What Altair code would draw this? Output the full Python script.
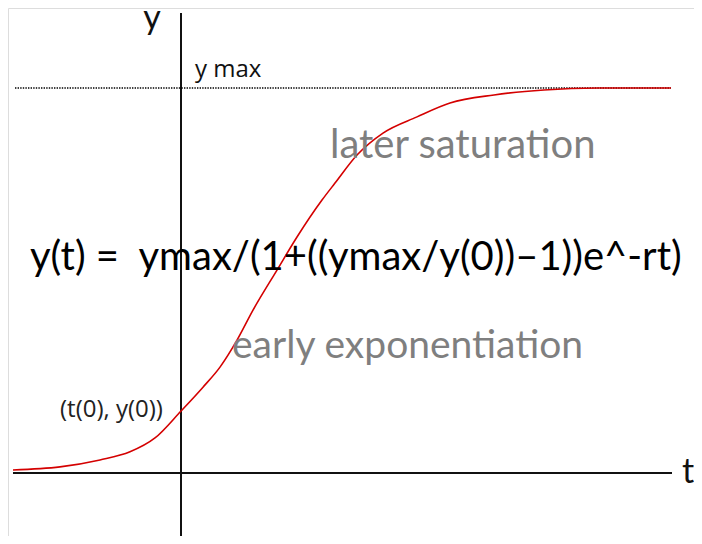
import altair as alt
import pandas as pd

# logistic curve (t in arbitrary units, y as fraction of ymax)
curve_t = [-3.36, -2.42, -1.62, -1.02, -0.52, 0.0, 0.44, 0.78, 1.12, 1.44, 1.92, 2.32, 2.82, 3.08, 3.52, 4.04, 4.72, 5.38, 6.26, 7.26, 8.34, 9.80]
curve_y = [0.008, 0.016, 0.034, 0.055, 0.091, 0.161, 0.223, 0.275, 0.345, 0.423, 0.527, 0.613, 0.709, 0.753, 0.826, 0.883, 0.925, 0.961, 0.982, 0.995, 1.0, 1.0]

y_max = 1.0
t_axis_range = [-3.36, 9.82]
y_axis_range = [-0.1636, 1.195]
ymax_line_range = [-3.32, 9.80]

label_text = ["y max", "later saturation", "y(t) =\u00a0\u00a0ymax/(1+((ymax/y(0))\u20131))e^-rt)", "early exponentiation", "(t(0), y(0))"]
label_t = [0.28, 2.98, -3.02, 1.02, -2.42]
label_y = [1.0286, 0.818, 0.527, 0.299, 0.145]
label_font = ["Open Sans", "Lato", "Lato", "Lato", "Open Sans"]
label_size = [24, 40, 40, 39, 24]
label_color = ["#111111", "#7f7f7f", "#000000", "#7f7f7f", "#222222"]

axis_label = ["y", "t"]
axis_label_t = [-0.58, 10.14]
axis_label_y = [1.153, -0.026]

T_DOM = [-3.46, 10.26]
Y_DOM = [-0.1636, 1.2078]
xs = alt.Scale(domain=T_DOM, nice=False, zero=False)
ys = alt.Scale(domain=Y_DOM, nice=False, zero=False)

curve_df = pd.DataFrame({"t": curve_t, "y": curve_y})

h_axis = alt.Chart(pd.DataFrame({"t": [t_axis_range[0]], "t2": [t_axis_range[1]], "y": [0.0]})).mark_rule(
    color="#111111", strokeWidth=2).encode(
    x=alt.X("t:Q", scale=xs, axis=None), x2="t2:Q", y=alt.Y("y:Q", scale=ys, axis=None))

v_axis = alt.Chart(pd.DataFrame({"t": [0.0], "y": [y_axis_range[0]], "y2": [y_axis_range[1]]})).mark_rule(
    color="#111111", strokeWidth=2).encode(
    x=alt.X("t:Q", scale=xs, axis=None), y=alt.Y("y:Q", scale=ys, axis=None), y2="y2:Q")

ymax_line = alt.Chart(pd.DataFrame({"t": [ymax_line_range[0]], "t2": [ymax_line_range[1]], "y": [y_max]})).mark_rule(
    color="#000000", strokeWidth=1.6, strokeDash=[1.4, 1.2]).encode(
    x=alt.X("t:Q", scale=xs, axis=None), x2="t2:Q", y=alt.Y("y:Q", scale=ys, axis=None))

curve = alt.Chart(curve_df).mark_line(color="#d40000", strokeWidth=1.6, interpolate="monotone").encode(
    x=alt.X("t:Q", scale=xs, axis=None), y=alt.Y("y:Q", scale=ys, axis=None))

text_layers = []
for txt, tt, yy, fnt, sz, col in zip(label_text, label_t, label_y, label_font, label_size, label_color):
    text_layers.append(
        alt.Chart(pd.DataFrame({"t": [tt], "y": [yy], "label": [txt]})).mark_text(
            align="left", baseline="alphabetic", font=fnt, fontSize=sz, color=col).encode(
            x=alt.X("t:Q", scale=xs, axis=None), y=alt.Y("y:Q", scale=ys, axis=None), text="label:N"))

axis_names = alt.Chart(pd.DataFrame({"t": axis_label_t, "y": axis_label_y, "label": axis_label})).mark_text(
    align="center", baseline="alphabetic", font="Lato", fontSize=34, color="#111111").encode(
    x=alt.X("t:Q", scale=xs, axis=None), y=alt.Y("y:Q", scale=ys, axis=None), text="label:N")

chart = alt.layer(h_axis, v_axis, ymax_line, curve, *text_layers, axis_names).properties(
    width=686, height=528, padding=0, autosize=alt.AutoSizeParams(type="none")
).configure_view(stroke=None).configure(background="white")

chart.save("out.html", embed_options={"renderer": "svg", "actions": False})
